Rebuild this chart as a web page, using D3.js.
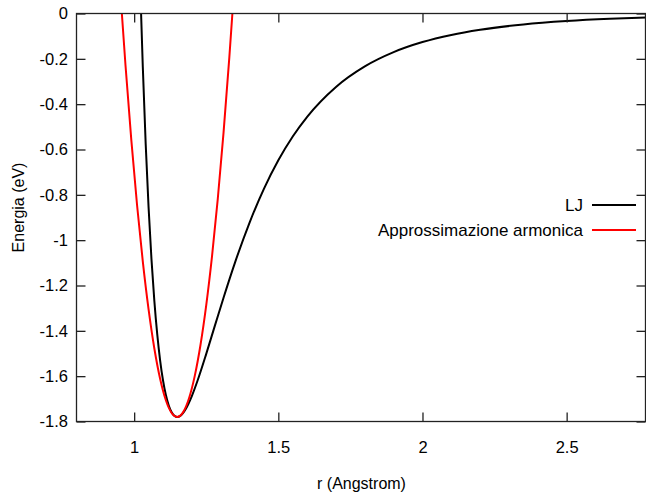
<!DOCTYPE html>
<html>
<head>
<meta charset="utf-8">
<script src="https://cdn.jsdelivr.net/npm/d3@7"></script>
<style>
  html, body { margin: 0; padding: 0; background: #fff; }
  svg { display: block; }
  text { font-family: "Liberation Sans", Arial, Helvetica, sans-serif; fill: #000; }
</style>
</head>
<body>
<svg id="chart" width="646" height="494"></svg>
<script>
// ---- data ----
const ljR = [1.02, 1.024, 1.03, 1.04, 1.05, 1.06, 1.07, 1.08, 1.09, 1.10, 1.11, 1.12, 1.13, 1.14, 1.15, 1.16,
             1.18, 1.20, 1.22, 1.25, 1.28, 1.31, 1.35, 1.40, 1.45, 1.50, 1.55, 1.60, 1.70, 1.80, 1.90,
             2.00, 2.10, 2.20, 2.35, 2.50, 2.65, 2.78];
const ljE = [0.173, 0.0, -0.2367, -0.5763, -0.8555, -1.0835, -1.2676, -1.4146, -1.5298, -1.6181, -1.6835, -1.7297,
             -1.7594, -1.7754, -1.7800, -1.7749, -1.7422, -1.6877, -1.6191, -1.5015, -1.3771, -1.2538, -1.0978,
             -0.9233, -0.7737, -0.6476, -0.5425, -0.4556, -0.3238, -0.2331, -0.1702, -0.1259, -0.0944, -0.0717,
             -0.0484, -0.0335, -0.0236, -0.0178];
const harmR = [0.955, 0.97, 0.99, 1.01, 1.03, 1.05, 1.07, 1.09, 1.11, 1.13, 1.149, 1.17, 1.19, 1.21, 1.23,
               1.25, 1.27, 1.29, 1.31, 1.33, 1.343];
const harmE = [0.042, -0.2292, -0.5564, -0.8449, -1.0946, -1.3056, -1.4779, -1.6115, -1.7064, -1.7625, -1.78,
               -1.7587, -1.6986, -1.5999, -1.4624, -1.2863, -1.0714, -0.8178, -0.5254, -0.1944, 0.042];
const seriesNames = ["LJ", "Approssimazione armonica"];
const seriesColors = ["#000000", "#ff0000"];
const xTicks = [1, 1.5, 2, 2.5];
const xTickLabels = ["1", "1.5", "2", "2.5"];
const yTicks = [0, -0.2, -0.4, -0.6, -0.8, -1, -1.2, -1.4, -1.6, -1.8];
const yTickLabels = ["0", "-0.2", "-0.4", "-0.6", "-0.8", "-1", "-1.2", "-1.4", "-1.6", "-1.8"];
const xTitle = "r (Angstrom)";
const yTitle = "Energia (eV)";

(function () {
// ---- layout ----
const pL = 76.5, pR = 645.5, pT = 13.5, pB = 421.5;
const x = d3.scaleLinear().domain([0.8, 2.7735]).range([pL, pR]);
const y = d3.scaleLinear().domain([-1.8, 0]).range([pB, pT]);
const svg = d3.select("#chart");
const fs = 16.5, tickLen = 9;

svg.append("defs").append("clipPath").attr("id", "clip")
  .append("rect").attr("x", pL).attr("y", pT).attr("width", pR - pL).attr("height", pB - pT);

// curves
const line = d3.line().curve(d3.curveMonotoneX);
const series = [d3.zip(ljR, ljE), d3.zip(harmR, harmE)];
const g = svg.append("g").attr("clip-path", "url(#clip)");
series.forEach((s, i) => {
  g.append("path")
    .attr("d", line(s.map(d => [x(d[0]), y(d[1])])))
    .attr("fill", "none")
    .attr("stroke", seriesColors[i])
    .attr("stroke-width", 2)
    .attr("stroke-linejoin", "round");
});

// border
svg.append("rect").attr("x", pL).attr("y", pT).attr("width", pR - pL).attr("height", pB - pT)
  .attr("fill", "none").attr("stroke", "#222").attr("stroke-width", 1.3);

// x axes (bottom + mirrored top)
const xb = d3.axisBottom(x).tickValues(xTicks).tickSize(-tickLen).tickFormat((d, i) => xTickLabels[i]).tickPadding(19.5);
const xa = svg.append("g").attr("transform", `translate(0,${pB})`).call(xb);
const xt = d3.axisTop(x).tickValues(xTicks).tickSize(-tickLen).tickFormat("");
const xa2 = svg.append("g").attr("transform", `translate(0,${pT})`).call(xt);
// y axes (left + mirrored right)
const yl = d3.axisLeft(y).tickValues(yTicks).tickSize(-tickLen).tickFormat((d, i) => yTickLabels[i]).tickPadding(8.5);
const ya = svg.append("g").attr("transform", `translate(${pL},0)`).call(yl);
const yr = d3.axisRight(y).tickValues(yTicks).tickSize(-tickLen).tickFormat("");
const ya2 = svg.append("g").attr("transform", `translate(${pR},0)`).call(yr);

[xa, xa2, ya, ya2].forEach(a => {
  a.select(".domain").remove();
  a.selectAll(".tick line").attr("stroke", "#222").attr("stroke-width", 1.3);
  a.selectAll(".tick text").attr("font-size", fs).attr("font-family", "Liberation Sans, Arial, sans-serif").attr("fill", "#000");
});

// axis titles
svg.append("text").attr("x", (pL + pR) / 2 + 0.5).attr("y", 489).attr("text-anchor", "middle")
  .attr("font-size", 16).text(xTitle);
svg.append("text").attr("transform", `translate(24,${(pT + pB) / 2 - 10}) rotate(-90)`)
  .attr("text-anchor", "middle").attr("font-size", 16).text(yTitle);

// legend
const legY = [205, 230];
seriesNames.forEach((n, i) => {
  svg.append("text").attr("x", 583).attr("y", legY[i]).attr("dy", "0.35em").attr("text-anchor", "end")
    .attr("font-size", 17).text(n);
  svg.append("line").attr("x1", 592).attr("x2", 636).attr("y1", legY[i]).attr("y2", legY[i])
    .attr("stroke", seriesColors[i]).attr("stroke-width", 2);
});
})();
</script>
</body>
</html>
